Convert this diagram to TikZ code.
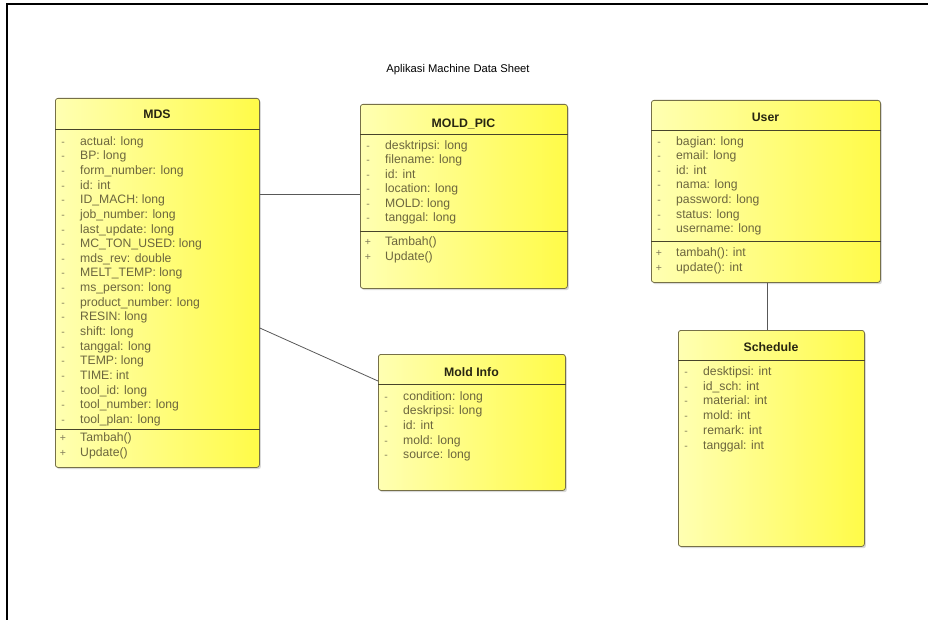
\documentclass[tikz,border=0pt]{standalone}
\usepackage{fontspec}
\setmainfont{Liberation Sans}
\usetikzlibrary{shadows}

\definecolor{ylight}{RGB}{255,255,178}
\definecolor{ydark}{RGB}{255,251,72}
\definecolor{boxline}{RGB}{118,112,72}
\definecolor{sepline}{RGB}{72,68,42}
\definecolor{memtextc}{RGB}{108,102,62}
\definecolor{headc}{RGB}{40,38,18}
\definecolor{linkc}{RGB}{88,88,88}

\tikzset{
  classbox/.style={draw=boxline, line width=0.8pt, rounded corners=2.5pt,
    left color=ylight, right color=ydark, inner sep=0pt, anchor=north west,
    drop shadow={shadow xshift=1.5pt, shadow yshift=-1.8pt, opacity=0.3}},
  header/.style={font=\fontsize{12.3}{14}\selectfont\bfseries, text=headc, inner sep=0pt},
  memtext/.style={font=\fontsize{12.2}{14}\selectfont, text=memtextc, inner sep=0pt,
    anchor=west, text height=9pt, text depth=2.6pt},
  memmark/.style={font=\fontsize{10.5}{12}\selectfont, text=memtextc!85, inner sep=0pt,
    text height=9pt, text depth=2.6pt},
  sep/.style={draw=sepline, line width=0.9pt},
  link/.style={draw=linkc, line width=0.8pt},
}

% #1 name prefix, #2 left x, #3 first row y, #4 row step, #5 visibility mark, #6 rows
\newcommand\classrows[6]{%
  \foreach \m [count=\i from 0] in {#6}{%
    \node[memmark, name=#1m\i] at ({#2+8},{#3+\i*#4}) {#5};
    \node[memtext, name=#1t\i] at ({#2+25},{#3+\i*#4}) {\m};
  }%
}

\begin{document}
\begin{tikzpicture}[x=1pt, y=-1pt]
  \useasboundingbox (0,0) rectangle (928,620);

  % outer frame (top and left edges)
  \draw[line width=2pt] (928,4) -- (7,4) -- (7,620);

  \node[font=\fontsize{11.2}{13}\selectfont, inner sep=0pt] (title) at (458,70) {Aplikasi Machine Data Sheet};

  % class boxes
  \node[classbox, minimum width=204pt, minimum height=369pt] (mds) at (55,98) {};
  \node[classbox, minimum width=207pt, minimum height=184pt] (moldpic) at (360,104) {};
  \node[classbox, minimum width=187pt, minimum height=136pt] (moldinfo) at (378,354) {};
  \node[classbox, minimum width=229pt, minimum height=182pt] (user) at (651,100) {};
  \node[classbox, minimum width=186pt, minimum height=216pt] (schedule) at (678,330) {};

  % MDS
  \node[header] (mdsh) at (157,114) {MDS};
  \draw[sep] (mds.west |- 0,129) -- (mds.east |- 0,129);
  \draw[sep] (mds.west |- 0,429) -- (mds.east |- 0,429);
  \classrows{mdsa}{55}{142}{14.64}{-}{actual: long, BP: long, form\_number: long, id: int,
    ID\_MACH: long, job\_number: long, last\_update: long, MC\_TON\_USED: long,
    mds\_rev: double, MELT\_TEMP: long, ms\_person: long, product\_number: long,
    RESIN: long, shift: long, tanggal: long, TEMP: long, TIME: int, tool\_id: long,
    tool\_number: long, tool\_plan: long}
  \classrows{mdso}{55}{438}{14.8}{+}{Tambah(), Update()}

  % MOLD_PIC
  \node[header] (moldpich) at (463.5,124) {MOLD\_PIC};
  \draw[sep] (moldpic.west |- 0,134) -- (moldpic.east |- 0,134);
  \draw[sep] (moldpic.west |- 0,231) -- (moldpic.east |- 0,231);
  \classrows{mpa}{360}{146}{14.5}{-}{desktripsi: long, filename: long, id: int,
    location: long, MOLD: long, tanggal: long}
  \classrows{mpo}{360}{242}{14.8}{+}{Tambah(), Update()}

  % Mold Info
  \node[header] (moldinfoh) at (471.5,372) {Mold Info};
  \draw[sep] (moldinfo.west |- 0,384) -- (moldinfo.east |- 0,384);
  \classrows{mia}{378}{397}{14.6}{-}{condition: long, deskripsi: long, id: int,
    mold: long, source: long}

  % User
  \node[header] (userh) at (765.5,117) {User};
  \draw[sep] (user.west |- 0,130) -- (user.east |- 0,130);
  \draw[sep] (user.west |- 0,241) -- (user.east |- 0,241);
  \classrows{usa}{651}{142}{14.6}{-}{bagian: long, email: long, id: int, nama: long,
    password: long, status: long, username: long}
  \classrows{uso}{651}{253}{14.8}{+}{tambah(): int, update(): int}

  % Schedule
  \node[header] (scheduleh) at (771,347) {Schedule};
  \draw[sep] (schedule.west |- 0,360) -- (schedule.east |- 0,360);
  \classrows{sca}{678}{372}{14.8}{-}{desktipsi: int, id\_sch: int, material: int,
    mold: int, remark: int, tanggal: int}

  % associations
  \draw[link] (mds.east |- 0,194) -- (moldpic.west |- 0,194);
  \draw[link] (mds.east |- 0,328) -- (moldinfo.west |- 0,381);
  \draw[link] (user.south -| 767,0) -- (schedule.north -| 767,0);
\end{tikzpicture}
\end{document}
